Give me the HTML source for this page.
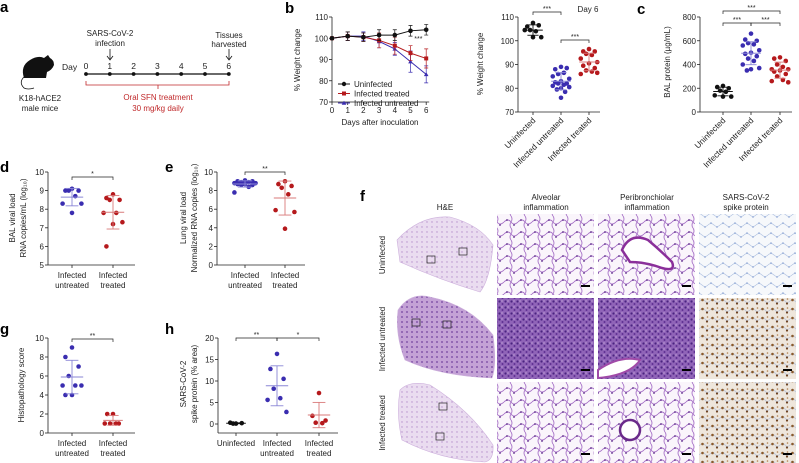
<!DOCTYPE html>
<html><head><meta charset="utf-8"><style>
html,body{margin:0;padding:0;background:#fff;}
svg{display:block;font-family:"Liberation Sans",sans-serif;}
</style></head><body>
<svg id="fig" width="799" height="463" viewBox="0 0 799 463" xmlns="http://www.w3.org/2000/svg">
<defs>
<pattern id="pAlv" width="14" height="12" patternUnits="userSpaceOnUse"><rect width="14" height="12" fill="#faf5fb"/><path d="M0 6 Q4 2 7 6 T14 6 M7 0 Q9 3 7 6 Q5 9 7 12" stroke="#a874c8" stroke-width="0.9" fill="none"/><circle cx="3" cy="4" r="0.9" fill="#5b2a8a"/><circle cx="10" cy="9" r="0.9" fill="#5b2a8a"/></pattern>
<pattern id="pDense" width="6" height="6" patternUnits="userSpaceOnUse"><rect width="6" height="6" fill="#9064b8"/><circle cx="1.5" cy="1.5" r="1.1" fill="#4a2480"/><circle cx="4.5" cy="4" r="1" fill="#5d2f91"/><circle cx="4" cy="1" r="0.6" fill="#d9c3e8"/></pattern>
<pattern id="pSpikeN" width="12" height="10" patternUnits="userSpaceOnUse"><rect width="12" height="10" fill="#f6f8fb"/><path d="M0 5 Q3 2 6 5 T12 5" stroke="#b5c6e4" stroke-width="0.7" fill="none"/><circle cx="3" cy="3" r="0.8" fill="#8aa3d4"/><circle cx="9" cy="7" r="0.8" fill="#8aa3d4"/></pattern>
<pattern id="pSpikeP" width="10" height="9" patternUnits="userSpaceOnUse"><rect width="10" height="9" fill="#eee6dc"/><path d="M0 4 Q3 1 5 4 T10 4" stroke="#b9c5dd" stroke-width="0.8" fill="none"/><circle cx="2.5" cy="3" r="1.3" fill="#8a5a2b"/><circle cx="7" cy="6.5" r="1.1" fill="#6e4220"/><circle cx="7.5" cy="2" r="0.8" fill="#b08050"/></pattern>
<pattern id="pLungL" width="5" height="5" patternUnits="userSpaceOnUse"><rect width="5" height="5" fill="#eadcf0"/><circle cx="2" cy="2" r="0.7" fill="#b58fcb"/></pattern>
<pattern id="pLungD" width="5" height="5" patternUnits="userSpaceOnUse"><rect width="5" height="5" fill="#c4a2d6"/><circle cx="2" cy="2" r="1" fill="#8557ab"/></pattern>
</defs>
<g id="root"></g>
</svg>
<script>
// ---------------- DATA ----------------
const weightDays = [0,1,2,3,4,5,6];
const weightUninf = [100,101,100.5,101.5,101.5,103.5,104];
const weightUninfSd = [0.5,2,2,2.5,2.5,2.5,2.5];
const weightTreated = [100,101,100.5,99,96.5,93,90.5];
const weightTreatedSd = [0.5,2,2,3.5,4,3.5,4.5];
const weightUntreated = [100,101,101,98.5,95,89,83];
const weightUntreatedSd = [0.5,2,2,3,3,5,4];
const weightTicks = [70,80,90,100,110];

const day6Cats = ["Uninfected","Infected untreated","Infected treated"];
const day6Uninf = [107.5,106,106.5,104.5,104,104.5,101.5,101.5];
const day6Untr = [89,88,88.5,86,86.5,85,84,83,82.5,82,82,81.5,81,80.5,80,79.5,78.5,76];
const day6Trt = [96.5,95.5,95.5,94.5,94,92.5,91,90.5,89.5,88.5,87.5,87,86,86.5];

const balCats = ["Uninfected","Infected untreated","Infected treated"];
const balUninf = [220,210,200,180,170,140,130,130];
const balUntr = [660,610,600,580,570,560,520,500,490,470,450,430,400,370,360,350];
const balTrt = [460,450,430,400,380,360,360,350,340,320,300,270,260,250];
const balTicks = [0,200,400,600,800];

const dCats = ["Infected untreated","Infected treated"];
const dUntr = [9.1,9.0,9.0,9.0,8.7,8.3,8.3,7.8];
const dTrt = [8.8,8.6,8.5,8.5,7.8,7.8,7.3,7.2,6.0];
const dTicks = [5,6,7,8,9,10];

const eUntr = [9.1,9.0,9.0,8.9,8.9,8.8,8.8,8.7,8.7,8.6,8.6,8.4,7.8];
const eTrt = [9.0,8.7,8.5,8.3,7.6,5.9,5.7,3.9];
const eTicks = [0,2,4,6,8,10];

const gUntr = [9,8,7,6,5,5,5,4,4];
const gTrt = [2,2,1,1,1,1];
const gTicks = [0,2,4,6,8,10];

const hCats = ["Uninfected","Infected untreated","Infected treated"];
const hUninf = [0.1,0.3,0.2,0.1];
const hUntr = [16.3,12.8,10.5,8.2,6.0,5.6,2.8];
const hTrt = [7.2,1.9,0.8,0.3,0.2];
const hTicks = [0,5,10,15,20];

// ---------------- HELPERS ----------------
const NS="http://www.w3.org/2000/svg";
const root=document.getElementById('root');
function el(tag,attrs,parent,text){const e=document.createElementNS(NS,tag);for(const k in attrs)e.setAttribute(k,attrs[k]);if(text!==undefined)e.textContent=text;(parent||root).appendChild(e);return e;}
function txt(x,y,s,size,anchor,parent,extra){const t=el('text',Object.assign({x:x,y:y,'font-size':size||8,'text-anchor':anchor||'middle',fill:'#222'},extra||{}),parent,s);return t;}
const BLUE="#3a2db0",RED="#b5191c",BLACK="#111",LBLUE="#8a86d6",LRED="#d97a7a";
function mean(a){return a.reduce((s,v)=>s+v,0)/a.length;}
function sd(a){const m=mean(a);return Math.sqrt(a.reduce((s,v)=>s+(v-m)*(v-m),0)/(a.length-1));}
const jit=[0,-7,7,-3.5,3.5,-10,10,0,-7,7,-3.5,3.5,-10,10,0,-5,5,0];
function yAxis(g,x,y0,y1,vmin,vmax,ticks,fmtSize,bottomExt){
  const sc=v=>y0+(v-vmin)/(vmax-vmin)*(y1-y0);
  const ax=el('line',{x1:x,y1:sc(vmax),x2:x,y2:(bottomExt||sc(vmin)),stroke:'#222','stroke-width':0.8},g);
  
  ticks.forEach(t=>{el('line',{x1:x-3,y1:sc(t),x2:x,y2:sc(t),stroke:'#222','stroke-width':0.8},g);
    const lb=txt(x-4,sc(t)+3,String(t),fmtSize||8,'end',g);});
  return sc;
}
function bracket(g,x1,x2,y,s){el('path',{d:`M${x1} ${y+3}V${y}H${x2}V${y+3}`,stroke:'#222','stroke-width':0.7,fill:'none'},g);txt((x1+x2)/2,y-1,s,7,'middle',g);}
function scatter(g,cx,vals,sc,color,lcolor,half){
  vals.forEach((v,i)=>{const c=el('circle',{cx:cx+jit[i%jit.length]*(half/8.5),cy:sc(v),r:2.3,fill:color},g);
    });
  const m=mean(vals),s=sd(vals);
  el('line',{x1:cx-half*1.4,x2:cx+half*1.4,y1:sc(m),y2:sc(m),stroke:lcolor,'stroke-width':1},g);
  el('line',{x1:cx,x2:cx,y1:sc(m-s),y2:sc(m+s),stroke:lcolor,'stroke-width':0.9},g);
  [m-s,m+s].forEach(v=>el('line',{x1:cx-half*0.8,x2:cx+half*0.8,y1:sc(v),y2:sc(v),stroke:lcolor,'stroke-width':0.9},g));
}
function grp(name){const g=el('g',{});return g;}
function label(x,y,s){const t=txt(x,y,s,15,'start',root,{'font-weight':'bold',fill:'#000'});}

// ---------------- PANEL A ----------------
(function(){
  const g=grp('panel-a-timeline');
  const m=el('path',{d:'M24 78 Q20 66 30 60 Q38 55 44 58 L48 55 L50 58 Q54 60 54 65 Q52 70 47 72 L46 78 Z',fill:'#111'},g);
  
  el('path',{d:'M25 76 Q18 82 24 88 Q28 90 34 88',stroke:'#111','stroke-width':0.8,fill:'none'},g);
  txt(40,101,'K18-hACE2',8,'middle',g);txt(40,111,'male mice',8,'middle',g);
  txt(62,70,'Day',8.5,'start',g);
  el('line',{x1:86,x2:229,y1:74,y2:74,stroke:'#111','stroke-width':1.2},g);
  for(let i=0;i<=6;i++){const x=86+i*23.8;el('circle',{cx:x,cy:74,r:1.9,fill:'#111'},g);txt(x,69,String(i),8.5,'middle',g);}
  txt(110,36,'SARS-CoV-2',8,'middle',g);txt(110,46,'infection',8,'middle',g);
  el('path',{d:'M110 49V59',stroke:'#111','stroke-width':0.8},g);el('path',{d:'M107 56L110 60L113 56',stroke:'#111','stroke-width':0.8,fill:'none'},g);
  txt(229,38,'Tissues',8,'middle',g);txt(229,47,'harvested',8,'middle',g);
  el('path',{d:'M229 49V59',stroke:'#111','stroke-width':0.8},g);el('path',{d:'M226 56L229 60L232 56',stroke:'#111','stroke-width':0.8,fill:'none'},g);
  el('path',{d:'M86 81V85H229V81M158 85V89',stroke:'#c0292b','stroke-width':0.8,fill:'none'},g);
  txt(158,100,'Oral SFN treatment',8,'middle',g,{fill:'#c0292b'});txt(158,111,'30 mg/kg daily',8,'middle',g,{fill:'#c0292b'});
})();
label(0,12,'a');

// ---------------- PANEL B LEFT ----------------
(function(){
  const g=grp('panel-b-weight-timecourse');
  const sc=yAxis(g,332,102,17,70,110,weightTicks);
  const xs=d=>332+d*15.7;
  el('line',{x1:332,x2:xs(6)+3,y1:102,y2:102,stroke:'#222','stroke-width':0.8},g);
  weightDays.forEach(d=>{el('line',{x1:xs(d),x2:xs(d),y1:102,y2:105,stroke:'#222','stroke-width':0.8},g);txt(xs(d),113,String(d),8,'middle',g);});
  txt(380,125,'Days after inoculation',8,'middle',g);
  const yl=txt(0,0,'% Weight change',8,'middle',g,{transform:'translate(300,60) rotate(-90)'});
  const series=[[weightUntreated,weightUntreatedSd,BLUE,'tri','line-infected-untreated'],[weightTreated,weightTreatedSd,RED,'sq','line-infected-treated'],[weightUninf,weightUninfSd,BLACK,'circ','line-uninfected']];
  series.forEach(([v,s,c,shape,name])=>{
    const p=el('polyline',{points:v.map((y,i)=>xs(weightDays[i])+','+sc(y)).join(' '),stroke:c,'stroke-width':1,fill:'none'},g);
    
    v.forEach((y,i)=>{const x=xs(weightDays[i]);
      el('path',{d:`M${x} ${sc(y-s[i])}V${sc(y+s[i])}M${x-2} ${sc(y-s[i])}h4M${x-2} ${sc(y+s[i])}h4`,stroke:c,'stroke-width':0.7},g);
      if(shape==='circ')el('circle',{cx:x,cy:sc(y),r:2.3,fill:c},g);
      else if(shape==='sq')el('rect',{x:x-2,y:sc(y)-2,width:4,height:4,fill:c},g);
      else el('path',{d:`M${x} ${sc(y)-2.3}L${x+2.3} ${sc(y)+1.8}L${x-2.3} ${sc(y)+1.8}Z`,fill:c},g);
    });
  });
  txt(xs(5.5),41,'***',7,'middle',g);
  const lg=el('g',{},g);
  [['Uninfected',BLACK,'c'],['Infected treated',RED,'s'],['Infected untreated',BLUE,'t']].forEach(([n,c,s],i)=>{
    const y=84+i*9.5;el('line',{x1:338,x2:350,y1:y,y2:y,stroke:c,'stroke-width':1},lg);
    if(s==='c')el('circle',{cx:344,cy:y,r:2.2,fill:c},lg);else if(s==='s')el('rect',{x:342,y:y-2,width:4,height:4,fill:c},lg);else el('path',{d:`M344 ${y-2.3}L346.3 ${y+1.8}L341.7 ${y+1.8}Z`,fill:c},lg);
    const t=txt(354,y+3,n,8,'start',lg);
  });
})();
label(285,13,'b');

function catAxis(g,x0,xEnd,yb,cats,xs,rot){
  el('line',{x1:x0,x2:xEnd,y1:yb,y2:yb,stroke:'#222','stroke-width':0.8},g);
  cats.forEach((c,i)=>{el('line',{x1:xs[i],x2:xs[i],y1:yb,y2:yb+3,stroke:'#222','stroke-width':0.8},g);
    if(rot){const t=txt(0,0,c,8.3,'end',g,{transform:`translate(${xs[i]+3},${yb+9}) rotate(-45)`});}
    else{const w=c.split(' ');const t1=txt(xs[i],yb+13,w[0],8,'middle',g);if(w[1])txt(xs[i],yb+23,w[1],8,'middle',g);}
  });
}
// ---------------- PANEL B RIGHT ----------------
(function(){
  const g=grp('panel-b-day6');
  const sc=yAxis(g,518,112,17,70,110,weightTicks);
  const xs=[533,561,589];
  catAxis(g,518,600,112,day6Cats,xs,true);
  const yl=txt(0,0,'% Weight change',8,'middle',g,{transform:'translate(483,64) rotate(-90)'});
  scatter(g,xs[0],day6Uninf,sc,BLACK,BLACK,7);
  scatter(g,xs[1],day6Untr,sc,BLUE,LBLUE,7);
  scatter(g,xs[2],day6Trt,sc,RED,LRED,7);
  bracket(g,xs[0],xs[1],12,'***');bracket(g,xs[1],xs[2],40,'***');
  txt(588,12,'Day 6',8,'middle',g);
})();

// ---------------- PANEL C ----------------
(function(){
  const g=grp('panel-c-bal-protein');
  const sc=yAxis(g,700,112,17,0,800,balTicks);
  const xs=[723,751,780];
  catAxis(g,700,792,112,balCats,xs,true);
  const yl=txt(0,0,'BAL protein (µg/mL)',8,'middle',g,{transform:'translate(670,62) rotate(-90)'});
  scatter(g,xs[0],balUninf,sc,BLACK,BLACK,7);
  scatter(g,xs[1],balUntr,sc,BLUE,LBLUE,7);
  scatter(g,xs[2],balTrt,sc,RED,LRED,7);
  bracket(g,xs[0],xs[2],11,'***');bracket(g,xs[0],xs[1],23,'***');bracket(g,xs[1],xs[2],23,'***');
})();
label(637,14,'c');

// ---------------- PANEL D ----------------
(function(){
  const g=grp('panel-d-bal-viral-load');
  const sc=yAxis(g,48,265,172,5,10,dTicks);
  const xs=[72,113];
  catAxis(g,48,135,265,dCats,xs,false);
  txt(0,0,'BAL viral load',8,'middle',g,{transform:'translate(15,218) rotate(-90)'});
  txt(0,0,'RNA copies/mL (log₁₀)',8,'middle',g,{transform:'translate(26,218) rotate(-90)'});
  scatter(g,xs[0],dUntr,sc,BLUE,LBLUE,8);
  scatter(g,xs[1],dTrt,sc,RED,LRED,8);
  bracket(g,xs[0],xs[1],177,'*');
})();
label(0,172,'d');

// ---------------- PANEL E ----------------
(function(){
  const g=grp('panel-e-lung-viral-load');
  const sc=yAxis(g,217,265,172,0,10,eTicks);
  const xs=[245,285];
  catAxis(g,217,305,265,dCats,xs,false);
  txt(0,0,'Lung viral load',8,'middle',g,{transform:'translate(186,218) rotate(-90)'});
  txt(0,0,'Normalized RNA copies (log₁₀)',8,'middle',g,{transform:'translate(197,218) rotate(-90)'});
  scatter(g,xs[0],eUntr,sc,BLUE,LBLUE,9);
  scatter(g,xs[1],eTrt,sc,RED,LRED,8);
  bracket(g,xs[0],xs[1],172,'**');
})();
label(165,172,'e');

// ---------------- PANEL G ----------------
(function(){
  const g=grp('panel-g-histopathology');
  const sc=yAxis(g,48,433,338,0,10,gTicks);
  const xs=[72,113];
  catAxis(g,48,135,433,dCats,xs,false);
  txt(0,0,'Histopathology score',8,'middle',g,{transform:'translate(24,385) rotate(-90)'});
  scatter(g,xs[0],gUntr,sc,BLUE,LBLUE,8);
  scatter(g,xs[1],gTrt,sc,RED,LRED,7);
  bracket(g,xs[0],xs[1],339,'**');
})();
label(0,334,'g');

// ---------------- PANEL H ----------------
(function(){
  const g=grp('panel-h-spike-protein');
  const sc=yAxis(g,218,424,338,0,20,hTicks,8,433);
  const xs=[236,277,319];
  catAxis(g,218,338,433,hCats,xs,false);
  txt(0,0,'SARS-CoV-2',8,'middle',g,{transform:'translate(186,384) rotate(-90)'});
  txt(0,0,'spike protein (% area)',8,'middle',g,{transform:'translate(197,384) rotate(-90)'});
  scatter(g,xs[0],hUninf,sc,BLACK,BLACK,7);
  scatter(g,xs[1],hUntr,sc,BLUE,LBLUE,8);
  scatter(g,xs[2],hTrt,sc,RED,LRED,8);
  bracket(g,xs[0],xs[1],338,'**');bracket(g,xs[1],xs[2],338,'*');
})();
label(165,334,'h');

// ---------------- PANEL F ----------------
(function(){
  const g=grp('panel-f-histology');
  txt(445,210,'H&E',8,'middle',g);
  [['Alveolar','inflammation',546],['Peribronchiolar','inflammation',647],['SARS-CoV-2','spike protein',746]].forEach(([a,b,x])=>{txt(x,200,a,8,'middle',g);txt(x,210,b,8,'middle',g);});
  const rows=[['Uninfected',214,'pAlv','pAlv','pSpikeN','pLungL'],['Infected untreated',298,'pDense','pDense','pSpikeP','pLungD'],['Infected treated',382,'pAlv','pAlv','pSpikeP','pLungL']];
  const cols=[497,598,699];
  const lungs=['M397 240 Q420 215 450 217 Q480 225 493 245 Q490 280 480 292 Q440 280 400 262 Z','M398 310 Q410 292 430 297 Q470 305 493 335 Q497 365 492 378 Q440 376 405 360 Q395 335 398 310 Z','M400 390 Q410 380 430 385 Q470 410 493 445 Q494 460 485 462 Q440 460 402 440 Q396 415 400 390 Z'];
  rows.forEach(([n,y,p1,p2,p3,pl],i)=>{
    const rl=txt(0,0,n,8,'middle',g,{transform:`translate(385,${y+41}) rotate(-90)`});
    const lung=el('path',{d:lungs[i],fill:`url(#${pl})`,stroke:'#cdb0dc','stroke-width':0.6},g);
    
    [p1,p2,p3].forEach((p,j)=>{const r=el('rect',{x:cols[j],y:y,width:97,height:81,fill:`url(#${p})`},g);
      
      el('rect',{x:cols[j]+84,y:y+71,width:9,height:2,fill:'#000'},g);});
  });
  [[431,260],[463,252],[416,323],[447,325],[443,407],[440,437]].forEach(([x,y])=>el('rect',{x:x-4,y:y-4,width:8,height:7,fill:'none',stroke:'#222','stroke-width':0.7},g));
  el('path',{d:'M622 250 Q630 232 648 240 Q660 250 672 262 Q676 272 662 268 Q645 262 630 262 Z',fill:'#fff',stroke:'#8a2f9a','stroke-width':2.5},g);
  el('circle',{cx:630,cy:430,r:10,fill:'#fff',stroke:'#6a2a8a','stroke-width':2.5},g);
  el('path',{d:'M598 370 Q620 355 640 360 Q630 375 598 378 Z',fill:'#fff',stroke:'#a04aa8','stroke-width':2},g);
})();
label(360,201,'f');
</script>
</body></html>
